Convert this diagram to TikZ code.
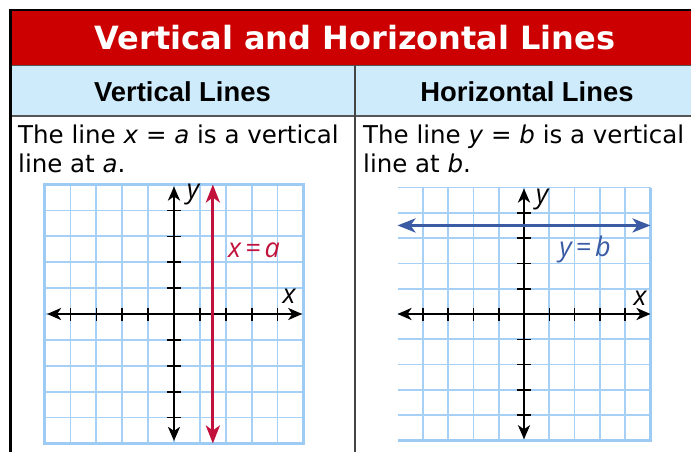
\documentclass[tikz,border=0pt]{standalone}
\usepackage{fontspec}
\usetikzlibrary{arrows.meta}
\newfontfamily\verd{DejaVu Sans}
\newfontfamily\arialf{Liberation Sans}
\newfontfamily\myr{Open Sans}
\definecolor{hdred}{HTML}{CC0000}
\definecolor{hdblue}{HTML}{CDEBFB}
\definecolor{gridc}{HTML}{A6D0F5}
\definecolor{gridb}{HTML}{9ECBF3}
\definecolor{linered}{HTML}{C0123C}
\definecolor{lineblue}{HTML}{3B5BA5}
\definecolor{rule}{HTML}{555555}
\tikzset{
  title/.style={text=white,font=\verd\bfseries\fontsize{32}{38}\selectfont,anchor=base,inner sep=0},
  colhead/.style={font=\arialf\bfseries\fontsize{27.4}{32}\selectfont,anchor=base,inner sep=0},
  body/.style={font=\verd\fontsize{24.5}{29}\selectfont,anchor=base west,inner sep=0},
  axlab/.style={font=\myr\itshape\fontsize{27}{30}\selectfont,inner sep=0},
  axis/.style={line width=2.6pt,{Stealth[length=14pt,width=12pt,inset=4pt]}-{Stealth[length=14pt,width=12pt,inset=4pt]}},
  tick/.style={line width=1.6pt},
  gline/.style={draw=gridc,line width=1.7pt},
  gborder/.style={draw=gridb,line width=3pt},
  redline/.style={draw=linered,line width=3pt,{Stealth[length=18pt,width=14pt,inset=5pt]}-{Stealth[length=18pt,width=14pt,inset=5pt]}},
  blueline/.style={draw=lineblue,line width=3pt,{Stealth[length=18pt,width=14pt,inset=5pt]}-{Stealth[length=18pt,width=14pt,inset=5pt]}},
}
\begin{document}
\begin{tikzpicture}[x=1pt,y=-1pt]
\useasboundingbox (0,0) rectangle (691,452);
\fill[white] (0,0) rectangle (691,452);
% header bands
\fill[hdred] (10,10) rectangle (691,65.5);
\fill[hdblue] (10,65.5) rectangle (691,116);
\draw[rule,line width=1.6pt] (10,65.5) -- (691,65.5);
\draw[rule,line width=1.6pt] (10,116) -- (691,116);
\draw[rule!80!black,line width=1.1pt] (355,65.5) -- (355,452);
\draw[black,line width=2.5pt] (9,10) -- (691,10);
\draw[black,line width=3pt] (10,8.75) -- (10,452);
% texts
\node[title] (ttl) at (355,50) {Vertical and Horizontal Lines};
\node[colhead] (h1) at (182.5,101.5) {Vertical Lines};
\node[colhead] (h2) at (527,101.5) {Horizontal Lines};
\node[body] (t1a) at (18,143) {The line \textit{x} = \textit{a} is a vertical};
\node[body] (t1b) at (18,172) {line at \textit{a}.};
\node[body] (t2a) at (363,143) {The line \textit{y} = \textit{b} is a vertical};
\node[body] (t2b) at (363,172) {line at \textit{b}.};
% ---------- graph 1 ----------
\begin{scope}[shift={(174,314)}]
  \def\c{25.9}
  \foreach \k in {-4,...,4} {
    \draw[gline] (\k*\c,-5*\c) -- (\k*\c,5*\c);
    \draw[gline] (-5*\c,\k*\c) -- (5*\c,\k*\c);
  }
  \draw[gborder] (-5*\c,-5*\c) rectangle (5*\c,5*\c);
  \coordinate (g1l) at (-4.9*\c,0);
  \coordinate (g1r) at (4.95*\c,0);
  \coordinate (g1t) at (0,-5*\c+2);
  \coordinate (g1b) at (0,4.9*\c);
  \foreach \k in {-4,-3,-2,-1,1,2,3,4} {
    \draw[tick] (\k*\c,-6.5) -- (\k*\c,6.5);
    \draw[tick] (-7,\k*\c) -- (7,\k*\c);
  }
  \draw[axis] (g1l) -- (g1r);
  \draw[axis] (g1b) -- (g1t);
  \coordinate (r1b) at (1.5*\c,5*\c);
  \coordinate (r1t) at (1.5*\c,-5*\c);
  \draw[redline] (r1b) -- (r1t);
  \node[axlab] (y1) at (19,-119) {y};
  \node[axlab] (x1) at (115,-18) {x};
  \node[axlab,text=linered] (lab1) at (80,-64) {x\hspace{4pt}=\hspace{4pt}a};
\end{scope}
% ---------- graph 2 ----------
\begin{scope}[shift={(524,314)}]
  \def\c{25.3}
  \foreach \k in {-4,...,4} {
    \draw[gline] (\k*\c,-5*\c) -- (\k*\c,5*\c);
    \draw[gline] (-5*\c,\k*\c) -- (5*\c,\k*\c);
  }
  \draw[gline] (-5*\c,-5*\c) -- (5*\c,-5*\c);
  \draw[gborder] (-5*\c,5*\c) -- (5*\c,5*\c) -- (5*\c,-5*\c);
  \coordinate (g2l) at (-5*\c,0);
  \coordinate (g2r) at (5*\c,0);
  \coordinate (g2t) at (0,-5*\c+1);
  \coordinate (g2b) at (0,4.95*\c);
  \foreach \k in {-4,-3,-2,-1,1,2,3,4} {
    \draw[tick] (\k*\c,-6.5) -- (\k*\c,6.5);
    \draw[tick] (-7,\k*\c) -- (7,\k*\c);
  }
  \draw[axis] (g2l) -- (g2r);
  \draw[axis] (g2b) -- (g2t);
  \coordinate (b2l) at (-5*\c,-3.5*\c);
  \coordinate (b2r) at (5*\c,-3.5*\c);
  \draw[blueline] (b2l) -- (b2r);
  \node[axlab] (y2) at (18,-114) {y};
  \node[axlab] (x2) at (116,-16) {x};
  \node[axlab,text=lineblue] (lab2) at (61,-65) {y\hspace{4pt}=\hspace{4pt}b};
\end{scope}
\end{tikzpicture}
\end{document}
